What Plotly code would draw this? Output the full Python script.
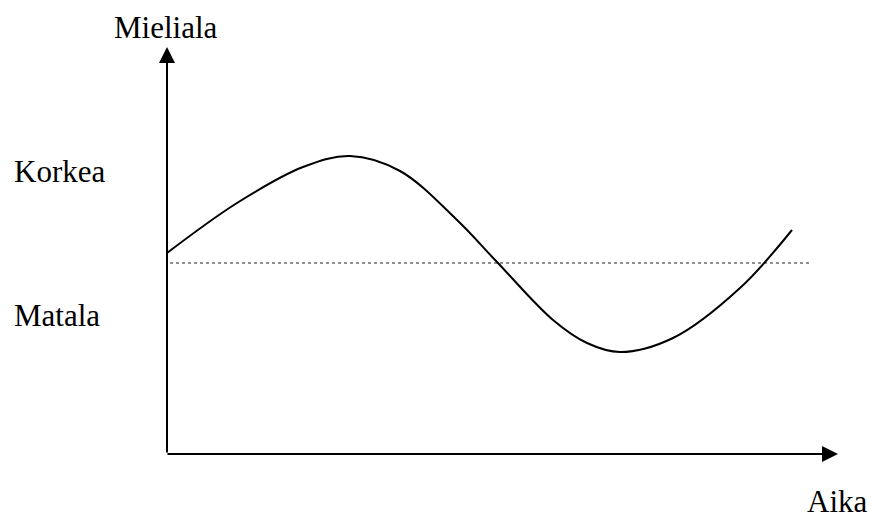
import plotly.graph_objects as go

# Curve: time (t) vs mood (m), in chart units (origin at axis corner)
time = [0, 70, 136, 183, 233, 290, 330, 386, 420, 453, 506, 573, 625]
mood = [201, 251, 287, 298, 283, 234, 192, 134, 111, 102, 116, 166, 224]

baseline_level = 191
baseline_x = [3, 645]

y_axis_top = 407
x_axis_end = 671

labels = {
    "title_y": ("Mieliala", -54, 426.5),
    "high": ("Korkea", -154, 282.5),
    "low": ("Matala", -154, 138.5),
    "title_x": ("Aika", 639, -47),
}

font = dict(family="Liberation Serif", size=31, color="black")

fig = go.Figure()
fig.add_trace(go.Scatter(x=baseline_x, y=[baseline_level, baseline_level], mode="lines",
                         line=dict(color="#222222", width=1.2, dash="dot"), hoverinfo="skip"))
fig.add_trace(go.Scatter(x=time, y=mood, mode="lines",
                         line=dict(color="black", width=2, shape="spline", smoothing=1.0), hoverinfo="skip"))

anns = []
# axes arrows
anns.append(dict(x=0, y=y_axis_top, ax=0, ay=0, xref="x", yref="y", axref="x", ayref="y",
                 showarrow=True, arrowhead=2, arrowsize=1.6, arrowwidth=2, arrowcolor="black",
                 standoff=0, startstandoff=0, text=""))
anns.append(dict(x=x_axis_end, y=0, ax=-1, ay=0, xref="x", yref="y", axref="x", ayref="y",
                 showarrow=True, arrowhead=2, arrowsize=1.6, arrowwidth=2, arrowcolor="black",
                 standoff=0, startstandoff=0, text=""))
for key, (txt, tx, ty) in labels.items():
    anns.append(dict(x=tx, y=ty, xref="x", yref="y", text=txt, showarrow=False,
                     xanchor="left", yanchor="middle", font=font, borderpad=0))

fig.update_layout(
    width=871, height=520,
    margin=dict(l=0, r=0, t=0, b=0),
    paper_bgcolor="white", plot_bgcolor="white",
    showlegend=False,
    font=dict(family="Liberation Serif"),
    xaxis=dict(range=[-167, 704], visible=False, fixedrange=True),
    yaxis=dict(range=[-66, 454], visible=False, fixedrange=True),
    annotations=anns,
)
fig.write_html("out.html", config={"displayModeBar": False},
               post_script="document.body.style.margin='0';document.body.style.overflow='hidden';")
